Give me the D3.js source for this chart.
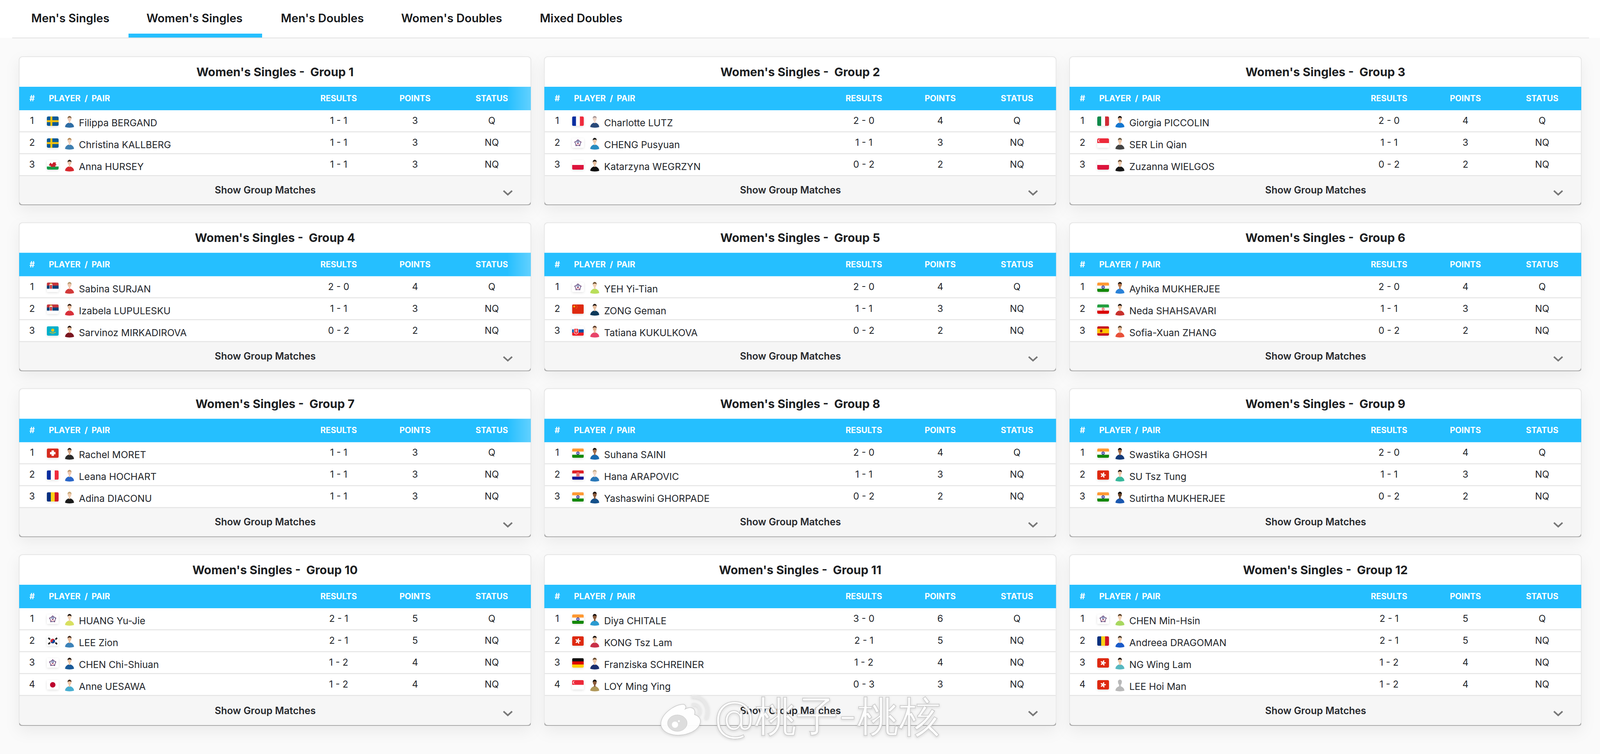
<!DOCTYPE html>
<html><head><meta charset="utf-8">
<script src="https://cdnjs.cloudflare.com/ajax/libs/d3/7.8.5/d3.min.js"></script>
<style>
html,body{margin:0;padding:0;background:#fafafa;overflow:hidden}
svg{display:block}
text{font-family:Inter,"Noto Sans",sans-serif;white-space:pre}
</style></head><body><svg id="c" width="4097" height="1929"></svg>
<script>
const tabs = ["Men's Singles","Women's Singles","Men's Doubles","Women's Doubles","Mixed Doubles"];
const columns = ["RESULTS","POINTS","STATUS"];
const groupNames = ["Group 1","Group 2","Group 3","Group 4","Group 5","Group 6","Group 7","Group 8","Group 9","Group 10","Group 11","Group 12"];
const players = [
 ["Filippa BERGAND","Christina KALLBERG","Anna HURSEY"],
 ["Charlotte LUTZ","CHENG Pusyuan","Katarzyna WEGRZYN"],
 ["Giorgia PICCOLIN","SER Lin Qian","Zuzanna WIELGOS"],
 ["Sabina SURJAN","Izabela LUPULESKU","Sarvinoz MIRKADIROVA"],
 ["YEH Yi-Tian","ZONG Geman","Tatiana KUKULKOVA"],
 ["Ayhika MUKHERJEE","Neda SHAHSAVARI","Sofia-Xuan ZHANG"],
 ["Rachel MORET","Leana HOCHART","Adina DIACONU"],
 ["Suhana SAINI","Hana ARAPOVIC","Yashaswini GHORPADE"],
 ["Swastika GHOSH","SU Tsz Tung","Sutirtha MUKHERJEE"],
 ["HUANG Yu-Jie","LEE Zion","CHEN Chi-Shiuan","Anne UESAWA"],
 ["Diya CHITALE","KONG Tsz Lam","Franziska SCHREINER","LOY Ming Ying"],
 ["CHEN Min-Hsin","Andreea DRAGOMAN","NG Wing Lam","LEE Hoi Man"]];
const flags = [
 ["SE","SE","WLS"],["FR","TPE","PL"],["IT","SG","PL"],
 ["RS","RS","KZ"],["TPE","CN","SK"],["IN","IR","ES"],
 ["CH","FR","RO"],["IN","HR","IN"],["IN","HK","IN"],
 ["TPE","KR","TPE","JP"],["IN","HK","DE","SG"],["TPE","RO","HK","HK"]];
const results = [
 ["1 - 1","1 - 1","1 - 1"],["2 - 0","1 - 1","0 - 2"],["2 - 0","1 - 1","0 - 2"],
 ["2 - 0","1 - 1","0 - 2"],["2 - 0","1 - 1","0 - 2"],["2 - 0","1 - 1","0 - 2"],
 ["1 - 1","1 - 1","1 - 1"],["2 - 0","1 - 1","0 - 2"],["2 - 0","1 - 1","0 - 2"],
 ["2 - 1","2 - 1","1 - 2","1 - 2"],["3 - 0","2 - 1","1 - 2","0 - 3"],["2 - 1","2 - 1","1 - 2","1 - 2"]];
const points = [
 [3,3,3],[4,3,2],[4,3,2],[4,3,2],[4,3,2],[4,3,2],[3,3,3],[4,3,2],[4,3,2],
 [5,5,4,4],[6,5,4,3],[5,5,4,4]];
const statuses = [
 ["Q","NQ","NQ"],["Q","NQ","NQ"],["Q","NQ","NQ"],["Q","NQ","NQ"],["Q","NQ","NQ"],["Q","NQ","NQ"],
 ["Q","NQ","NQ"],["Q","NQ","NQ"],["Q","NQ","NQ"],["Q","NQ","NQ","NQ"],["Q","NQ","NQ","NQ"],["Q","NQ","NQ","NQ"]];
// avatar colours: jersey, skin, hair
const avatarPalette = [
 [["#2e6da4","#f0cdb8","#8a6a4c"],["#3f7fb0","#f2d3bd","#b78e5e"],["#d8292f","#efc7ad","#3a2a20"]],
 [["#2a4a7a","#f0d6c8","#a99"],["#2a8cc0","#f0cdb0","#1c1c1c"],["#111111","#e8c0a0","#2a2018"]],
 [["#1476cf","#e0ae8c","#1a1410"],["#444444","#eec8aa","#6a5a44"],["#181818","#f0cdb0","#6a4c30"]],
 [["#d23a3a","#f0c8b0","#b59a70"],["#d8303a","#edc0a0","#3a2418"],["#7a1620","#e8bb98","#2a1810"]],
 [["#b9de5a","#f2d2b4","#6a5030"],["#0f3a5a","#e8bd9c","#241a14"],["#e8446a","#e8bd9c","#5a3a28"]],
 [["#2a82d8","#b87a50","#1c120c"],["#c8302c","#e8bb98","#16100c"],["#e8503a","#e8bb98","#5a4028"]],
 [["#2a2a2a","#d8a888","#3a2a20"],["#2a66c8","#f0c8b0","#c09a70"],["#1c1c1c","#f0cdb0","#c8a878"]],
 [["#1a6ab0","#a8704c","#20140c"],["#2a78b8","#f2d8c8","#c8b090"],["#14508a","#8a5a3a","#1c120c"]],
 [["#143a78","#a86e48","#18100c"],["#38b89c","#eec8a8","#241a14"],["#1a58b0","#6a4428","#100c08"]],
 [["#d8e060","#f2d2b4","#241a14"],["#3c82b8","#e8bd9c","#4a3020"],["#1a5a98","#eec8a8","#2a1c14"],["#48aed0","#f0c8a8","#4a3020"]],
 [["#2a9ad0","#8a5a3a","#1c120c"],["#c83048","#e8bd9c","#1c120c"],["#1c2f70","#eec8a8","#6a4c30"],["#b0985a","#8a5a3a","#100c08"]],
 [["#a8d860","#f2d2b4","#5a4028"],["#1a5ac8","#f0cdb0","#4a3a2a"],["#58b8c0","#eec8a8","#241a14"],["#b9b9b9","#b9b9b9","#b9b9b9"]]];

const cardW = 1310, headH = 77, bandH = 60, rowH = 56;
const cardX = d3.scaleLinear([0,2],[49,2738]);
const cardY = d3.scaleLinear([0,3],[145,1419]);
const colX = d3.scaleOrdinal(columns,[818,1013.5,1210]);
const tabX = d3.scaleOrdinal(tabs,[80,375,719,1027,1382]);

const svg = d3.select("#c");
const defs = svg.append("defs");
const shadow = defs.append("filter").attr("id","cardShadow").attr("x","-6%").attr("y","-15%").attr("width","112%").attr("height","135%");
shadow.append("feDropShadow").attr("dx",0).attr("dy",14).attr("stdDeviation",18).attr("flood-color","#000").attr("flood-opacity",0.06);
const flagSh = defs.append("filter").attr("id","flagShadow").attr("x","-30%").attr("y","-30%").attr("width","160%").attr("height","170%");
flagSh.append("feDropShadow").attr("dx",0).attr("dy",2).attr("stdDeviation",3).attr("flood-color","#000").attr("flood-opacity",0.12);
const wmSh = defs.append("filter").attr("id","wmShadow").attr("x","-5%").attr("y","-10%").attr("width","110%").attr("height","130%");
wmSh.append("feDropShadow").attr("dx",0).attr("dy",2).attr("stdDeviation",3).attr("flood-color","#000").attr("flood-opacity",0.14);
defs.append("clipPath").attr("id","flagClip").append("rect").attr("width",30).attr("height",24).attr("rx",3.5);
const fade = defs.append("linearGradient").attr("id","bandFade").attr("x1",0).attr("x2",1).attr("y1",0).attr("y2",0);
fade.append("stop").attr("offset",0).attr("stop-color","#fff").attr("stop-opacity",0);
fade.append("stop").attr("offset",1).attr("stop-color","#fff").attr("stop-opacity",0.28);

// page top
svg.append("rect").attr("width",4097).attr("height",97).attr("fill","#fff");
svg.append("rect").attr("x",31).attr("y",96).attr("width",4037).attr("height",2).attr("fill","#e2e2e2");
svg.selectAll("text.tab").data(tabs).join("text").attr("class","tab")
  .attr("x",d=>tabX(d)).attr("y",57).attr("font-size",29.5).attr("font-weight",600).attr("fill","#15171a").text(d=>d);
svg.append("rect").attr("x",329).attr("y",86).attr("width",342).attr("height",10).attr("fill","#25bfff");

function star(g,cx,cy,r,fill){
  const pts=d3.range(10).map(i=>{const a=-Math.PI/2+i*Math.PI/5,R=i%2?r*0.42:r;return [cx+R*Math.cos(a),cy+R*Math.sin(a)];});
  g.append("polygon").attr("points",pts.map(p=>p.join(",")).join(" ")).attr("fill",fill);
}
function bands(g,list,vertical){
  const n=list.length;
  list.forEach((c,i)=>{
    const r=g.append("rect").attr("fill",c);
    if(vertical) r.attr("x",30*i/n).attr("y",0).attr("width",30/n+.5).attr("height",24);
    else r.attr("x",0).attr("y",24*i/n).attr("width",30).attr("height",24/n+.5);
  });
}
const flagDraw = {
  SE(g){bands(g,["#0b5a96"]);g.append("rect").attr("x",9).attr("width",5).attr("height",24).attr("fill","#f4c20d");g.append("rect").attr("y",9.5).attr("width",30).attr("height",5).attr("fill","#f4c20d");},
  WLS(g){bands(g,["#ffffff","#ffffff","#169b45"]);g.append("path").attr("d","M5,13 L9,6 L13,10 L17,5 L24,6 L22,9 L25,12 L21,14 L23,18 L17,16 L12,18 L10,15 Z").attr("fill","#c8202c");},
  FR(g){bands(g,["#0a2ea0","#ffffff","#ef2b3c"],true);},
  IT(g){bands(g,["#0e8a4a","#ffffff","#d02b35"],true);},
  RO(g){bands(g,["#08307f","#fbd116","#cf1427"],true);},
  PL(g){bands(g,["#ffffff","#dc143c"]);},
  SG(g){bands(g,["#ed2939","#ffffff"]);g.append("circle").attr("cx",6).attr("cy",6).attr("r",3.6).attr("fill","#fff");g.append("circle").attr("cx",7.4).attr("cy",6).attr("r",3.2).attr("fill","#ed2939");},
  RS(g){bands(g,["#c6363c","#0c4076","#ffffff"]);g.append("rect").attr("x",7).attr("y",3).attr("width",7).attr("height",15).attr("rx",2).attr("fill","#fff");g.append("rect").attr("x",8).attr("y",6).attr("width",5).attr("height",10).attr("rx",1.5).attr("fill","#c6363c");g.append("circle").attr("cx",10.5).attr("cy",2.8).attr("r",2).attr("fill","#e0b13a");},
  KZ(g){bands(g,["#00afca"]);g.append("circle").attr("cx",15).attr("cy",10).attr("r",4).attr("fill","#fec50c");g.append("path").attr("d","M7,15 Q15,20 23,15").attr("fill","none").attr("stroke","#fec50c").attr("stroke-width",1.6);},
  CN(g){bands(g,["#de2910"]);star(g,5.5,5.5,3.4,"#ffde00");[[11,2.5],[13,5],[13,8],[11,10]].forEach(p=>star(g,p[0],p[1],1,"#ffde00"));},
  SK(g){bands(g,["#ffffff","#0b4ea2","#ee1c25"]);g.append("path").attr("d","M5,6 H16 V14 Q16,19 10.5,20 Q5,19 5,14 Z").attr("fill","#ee1c25").attr("stroke","#fff").attr("stroke-width",1.2);g.append("path").attr("d","M10.5,7.5 V17 M7.5,10 H13.5 M8,13 H13").attr("stroke","#fff").attr("stroke-width",1.3);},
  IN(g){bands(g,["#ff9933","#ffffff","#138808"]);g.append("circle").attr("cx",15).attr("cy",12).attr("r",3.2).attr("fill","#fff").attr("stroke","#000080").attr("stroke-width",1.5);g.append("circle").attr("cx",15).attr("cy",12).attr("r",1).attr("fill","#000080");},
  IR(g){bands(g,["#239f40","#ffffff","#da0000"]);g.append("circle").attr("cx",15).attr("cy",12).attr("r",2.6).attr("fill","none").attr("stroke","#da0000").attr("stroke-width",1.2);},
  ES(g){bands(g,["#c60b1e","#ffc400","#ffc400","#c60b1e"]);g.append("rect").attr("x",7).attr("y",8.5).attr("width",6).attr("height",7).attr("rx",1.5).attr("fill","#ad1519");},
  CH(g){bands(g,["#d52b1e"]);g.append("rect").attr("x",12).attr("y",5).attr("width",6).attr("height",14).attr("fill","#fff");g.append("rect").attr("x",8).attr("y",9).attr("width",14).attr("height",6).attr("fill","#fff");},
  HR(g){bands(g,["#e01f26","#ffffff","#171796"]);g.append("rect").attr("x",11).attr("y",5).attr("width",8).attr("height",11).attr("fill","#e01f26");g.append("path").attr("d","M11,7.5 H19 M11,11 H19 M11,14.5 H19 M13.5,5 V16 M16.5,5 V16").attr("stroke","#fff").attr("stroke-width",1.1).attr("stroke-dasharray","1.5 1.5");},
  HK(g){bands(g,["#de2910"]);d3.range(5).forEach(i=>{g.append("ellipse").attr("cx",15).attr("cy",8.2).attr("rx",1.7).attr("ry",3.4).attr("fill","#fff").attr("transform",`rotate(${i*72+15} 15 12)`);});},
  KR(g){bands(g,["#ffffff"]);g.append("circle").attr("cx",15).attr("cy",12).attr("r",6).attr("fill","#cd2e3a");g.append("path").attr("d","M9,12 A6,6 0 0 0 21,12 A3,3 0 0 0 15,12 A3,3 0 0 1 9,12").attr("fill","#0047a0");[[6,6,45],[24,6,-45],[6,18,-45],[24,18,45]].forEach(d=>g.append("rect").attr("x",d[0]-3).attr("y",d[1]-2).attr("width",6).attr("height",4).attr("fill","#222").attr("transform",`rotate(${d[2]} ${d[0]} ${d[1]})`));},
  JP(g){bands(g,["#ffffff"]);g.append("circle").attr("cx",15).attr("cy",12).attr("r",7).attr("fill","#bc002d");},
  DE(g){bands(g,["#111111","#dd0000","#ffce00"]);},
  TPE(g){bands(g,["#ffffff"]);
    const pts=d3.range(5).map(i=>{const a=-Math.PI/2+i*2*Math.PI/5;return [15+8*Math.cos(a),12+8*Math.sin(a)];});
    g.append("polygon").attr("points",pts.map(p=>p.join(",")).join(" ")).attr("fill","#fff").attr("stroke","#2a1a5a").attr("stroke-width",1.2).attr("stroke-linejoin","round");
    pts.forEach(p=>g.append("circle").attr("cx",p[0]).attr("cy",p[1]).attr("r",1.2).attr("fill","#5a1a5a"));
    g.append("circle").attr("cx",15).attr("cy",9.5).attr("r",2.4).attr("fill","none").attr("stroke","#1a2a7a").attr("stroke-width",1.1);
    g.append("path").attr("d","M11.5,16.5 L15,12.5 L18.5,16.5").attr("fill","none").attr("stroke","#b01030").attr("stroke-width",1.1);}
};

function drawAvatar(g,p){
  const [jersey,skin,hair]=p;
  g.append("path").attr("d","M-11.5,15 C-11,8 -6,5.5 -2.5,4 L2.5,4 C6,5.5 11,8 11.5,15 Q0,18.5 -11.5,15 Z").attr("fill",jersey);
  g.append("rect").attr("x",-2).attr("y",-2).attr("width",4).attr("height",7).attr("fill",skin);
  g.append("ellipse").attr("cx",0).attr("cy",-6.5).attr("rx",4.8).attr("ry",6.6).attr("fill",skin);
  g.append("path").attr("d","M-5,-6.5 C-6,-15.5 6,-15.5 5,-6.5 C4,-10 -4,-10 -5,-6.5 Z").attr("fill",hair);
}

const flat = groupNames.map((name,i)=>({name,i,col:i%3,row:Math.floor(i/3)}));
const card = svg.selectAll("g.card").data(flat).join("g").attr("class","card")
  .attr("transform",d=>`translate(${cardX(d.col)},${cardY(d.row)})`);

card.each(function(d){
  const g=d3.select(this), n=players[d.i].length;
  const rowsTop=headH+bandH, footH=n===3?73:75, bottom=rowsTop+n*rowH+footH;
  g.append("rect").attr("x",-1).attr("y",-1).attr("width",cardW+2).attr("height",bottom+3).attr("rx",9).attr("fill","#e6e6e6").attr("filter","url(#cardShadow)");
  g.append("rect").attr("x",0).attr("y",bottom-8).attr("width",cardW).attr("height",10).attr("rx",6).attr("fill","#a9a9a9");
  g.append("rect").attr("x",1).attr("y",1).attr("width",cardW-2).attr("height",bottom-2).attr("rx",8).attr("fill","#fff");
  // footer
  const footTop=rowsTop+n*rowH-1.5;
  g.append("path").attr("d",`M1,${footTop} H${cardW-1} V${bottom-9} Q${cardW-1},${bottom} ${cardW-9},${bottom} H9 Q1,${bottom} 1,${bottom-9} Z`).attr("fill","#f6f6f6");
  // title
  g.append("text").attr("x",cardW/2).attr("y",49.5).attr("text-anchor","middle").attr("font-size",30.3).attr("font-weight",700).attr("fill","#1c1e22").text(`Women's Singles -  ${d.name}`);
  // band
  g.append("rect").attr("x",0).attr("y",headH).attr("width",cardW).attr("height",bandH).attr("fill","#25bfff");
  if(d.col===0 && d.row<3) g.append("rect").attr("x",cardW-60).attr("y",headH).attr("width",60).attr("height",bandH).attr("fill","url(#bandFade)");
  const hy=headH+37, hs=g.append("g").attr("fill","#fff").attr("font-size",21).attr("font-weight",700);
  hs.append("text").attr("x",33).attr("y",hy).attr("text-anchor","middle").text("#");
  hs.append("text").attr("x",76).attr("y",hy).attr("word-spacing",5).text("PLAYER / PAIR");
  columns.forEach(c=>hs.append("text").attr("x",colX(c)).attr("y",hy).attr("text-anchor","middle").text(c));
  // rows
  players[d.i].forEach((name,r)=>{
    const top=rowsTop+r*rowH;
    const row=g.append("g");
    row.append("rect").attr("x",1).attr("y",top+rowH-2).attr("width",cardW-2).attr("height",2.4).attr("fill","#e4e4e4");
    const base=top+35;
    const t=row.append("g").attr("font-size",24).attr("fill","#22252a");
    t.append("text").attr("x",33).attr("y",base).attr("text-anchor","middle").text(r+1);
    t.append("text").attr("x",153).attr("y",top+41).attr("font-size",24.5).text(name);
    t.append("text").attr("x",colX("RESULTS")).attr("y",base).attr("text-anchor","middle").text(results[d.i][r]);
    t.append("text").attr("x",colX("POINTS")).attr("y",base).attr("text-anchor","middle").text(points[d.i][r]);
    t.append("text").attr("x",colX("STATUS")).attr("y",base).attr("text-anchor","middle").text(statuses[d.i][r]);
    const fo=row.append("g").attr("transform",`translate(71,${top+16})`);
    fo.append("rect").attr("width",30).attr("height",24).attr("rx",3.5).attr("fill","#fff").attr("filter","url(#flagShadow)");
    const fin=fo.append("g").attr("clip-path","url(#flagClip)");
    flagDraw[flags[d.i][r]](fin);
    drawAvatar(row.append("g").attr("transform",`translate(129,${top+28})`),avatarPalette[d.i][r]);
  });
  // footer labels
  g.append("text").attr("x",630).attr("y",bottom-28).attr("text-anchor","middle").attr("font-size",25).attr("font-weight",600).attr("fill","#25272b").text("Show Group Matches");
  g.append("path").attr("d",`M1240,${bottom-35} L1251,${bottom-25} L1262,${bottom-35}`).attr("fill","none").attr("stroke","#777").attr("stroke-width",4);
});

// watermark
const wm=svg.append("g").attr("filter","url(#wmShadow)");
wm.append("text").attr("x",1828).attr("y",1870).attr("font-size",107).attr("font-family","'Noto Sans CJK SC',sans-serif").attr("font-weight",300)
  .attr("fill","#fff").attr("fill-opacity",0.92).attr("stroke","#c9c9c9").attr("stroke-width",1.6).text("@桃子-桃核");
const logo=wm.append("g").attr("transform","translate(1690,1780)");
logo.append("path").attr("d","M56,22 C64,20 68,28 64,34 C80,26 92,32 88,48 C100,52 108,62 100,76 C90,94 60,104 34,100 C12,96 0,84 2,68 C6,44 36,24 56,22 Z").attr("fill","#fff").attr("fill-opacity",0.95).attr("stroke","#c9c9c9").attr("stroke-width",1.5);
logo.append("ellipse").attr("cx",44).attr("cy",70).attr("rx",25).attr("ry",21).attr("fill","#ddd").attr("stroke","#c9c9c9").attr("stroke-width",1);
logo.append("circle").attr("cx",38).attr("cy",74).attr("r",8).attr("fill","#fff");
logo.append("circle").attr("cx",48).attr("cy",65).attr("r",2.4).attr("fill","#fff");
logo.append("path").attr("d","M84,2 C110,0 130,26 118,56").attr("fill","none").attr("stroke","#e8e8e8").attr("stroke-width",8).attr("stroke-linecap","round");
logo.append("path").attr("d","M84,22 C96,20 106,32 100,46").attr("fill","none").attr("stroke","#e8e8e8").attr("stroke-width",7).attr("stroke-linecap","round");
</script></body></html>
